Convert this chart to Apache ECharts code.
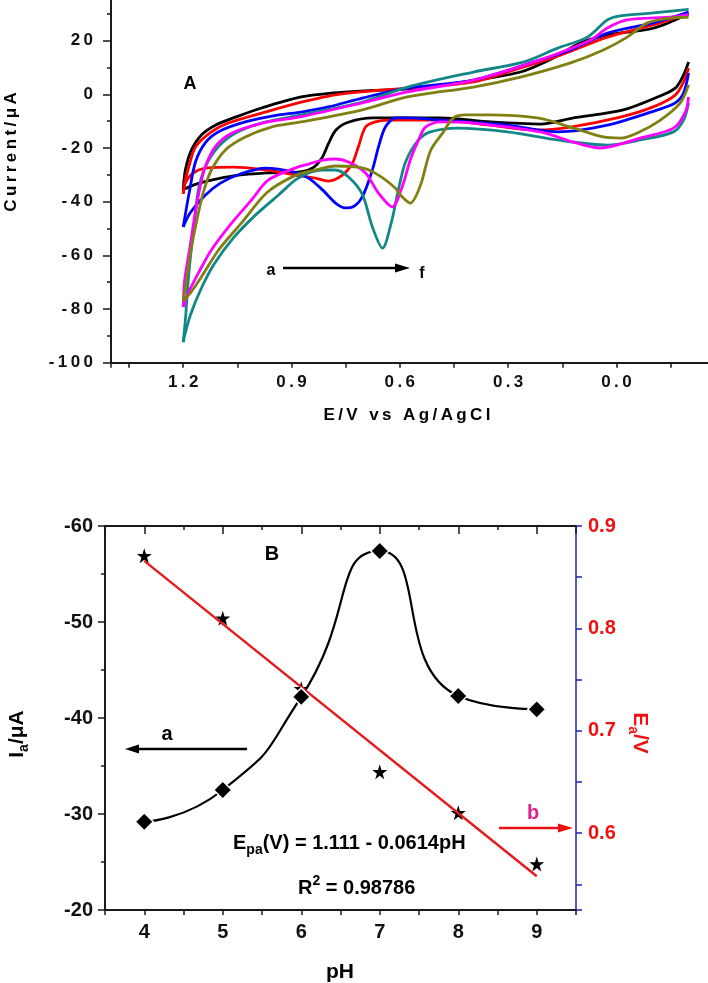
<!DOCTYPE html>
<html>
<head>
<meta charset="utf-8">
<title>CV curves and pH dependence</title>
<script src="https://cdn.jsdelivr.net/npm/echarts@6.0.0/dist/echarts.min.js"></script>
<style>
  html, body { margin: 0; padding: 0; background: #fff; }
  #chart { width: 708px; height: 983px; }
</style>
</head>
<body>
<div id="chart"></div>
<script>
// ---- panel A : cyclic voltammograms, [E (V), I (uA)] ----
// each curve split in the branch going 1.2 -> -0.2 (upper) and back (lower)
const aUpper = [[1.2,-35.5],[1.194,-28.2],[1.177,-20.7],[1.150,-15.2],[1.111,-11.5],[1.055,-8.5],[0.983,-5.1],[0.873,-1.0],[0.784,0.5],[0.709,1.2],[0.543,2.3],[0.404,5.0],[0.266,8.3],[0.175,13.5],[0.100,19.1],[0.025,22.1],[-0.102,24.6],[-0.2,30.0]]
const aLower = [[-0.2,12.0],[-0.186,7.2],[-0.163,2.3],[-0.114,-1.0],[-0.019,-5.8],[0.119,-8.8],[0.211,-11.1],[0.349,-10.3],[0.488,-8.8],[0.673,-8.8],[0.745,-10.5],[0.778,-13.5],[0.798,-18.5],[0.815,-23.5],[0.840,-27.3],[0.875,-28.9],[0.967,-29.3],[1.061,-30.4],[1.122,-32.0],[1.172,-33.8],[1.2,-35.5]]

const bUpper = [[1.2,-37.1],[1.194,-31.9],[1.183,-26.3],[1.166,-19.6],[1.122,-14.0],[1.075,-10.7],[0.983,-7.0],[0.873,-2.9],[0.765,0.1],[0.579,2.3],[0.396,4.6],[0.266,9.8],[0.155,14.6],[0.025,21.3],[-0.102,25.8],[-0.2,30.3]]
const bLower = [[-0.2,9.8],[-0.186,4.6],[-0.163,-0.3],[-0.102,-4.7],[-0.011,-8.5],[0.127,-12.2],[0.219,-13.3],[0.357,-11.4],[0.488,-9.6],[0.632,-9.6],[0.668,-10.3],[0.695,-12.2],[0.715,-19.6],[0.731,-25.6],[0.759,-30.1],[0.798,-32.3],[0.834,-31.2],[0.875,-30.4],[0.967,-28.2],[1.061,-27.1],[1.133,-27.4],[1.172,-29.3],[1.194,-33.0],[1.2,-37.1]]

const cUpper = [[1.2,-49.4],[1.191,-42.3],[1.183,-36.4],[1.166,-25.2],[1.139,-18.1],[1.103,-14.0],[1.028,-10.3],[0.936,-7.7],[0.873,-6.6],[0.798,-4.7],[0.704,-1.4],[0.579,2.3],[0.396,5.3],[0.211,12.8],[0.127,16.5],[0.025,22.8],[-0.102,26.6],[-0.2,30.6]]
const cLower = [[-0.2,7.9],[-0.186,0.5],[-0.163,-3.2],[-0.114,-5.8],[0.025,-11.5],[0.163,-14.0],[0.302,-11.5],[0.488,-9.6],[0.579,-8.8],[0.612,-8.8],[0.640,-12.2],[0.659,-19.6],[0.676,-28.2],[0.704,-38.2],[0.731,-42.0],[0.751,-42.3],[0.778,-40.5],[0.814,-35.6],[0.853,-31.2],[0.895,-28.9],[0.972,-27.5],[1.042,-29.7],[1.097,-33.1],[1.139,-37.6],[1.180,-44.0],[1.2,-49.4]]

const dUpper = [[1.2,-92.3],[1.194,-84.1],[1.186,-69.2],[1.177,-56.9],[1.166,-44.2],[1.158,-35.6],[1.139,-27.1],[1.103,-19.6],[1.055,-14.4],[0.983,-10.7],[0.873,-7.7],[0.704,-2.9],[0.579,2.7],[0.396,8.3],[0.258,12.0],[0.163,17.2],[0.080,21.3],[0.025,27.7],[-0.011,29.2],[-0.102,30.3],[-0.2,31.6]]
const dLower = [[-0.2,-3.2],[-0.186,-9.6],[-0.158,-14.0],[-0.066,-17.0],[0.025,-18.9],[0.163,-17.0],[0.302,-14.0],[0.440,-12.6],[0.515,-14.0],[0.548,-17.0],[0.584,-25.2],[0.604,-35.6],[0.623,-47.5],[0.648,-57.3],[0.676,-49.4],[0.704,-37.2],[0.742,-30.8],[0.778,-28.2],[0.814,-28.2],[0.853,-29.3],[0.889,-31.9],[0.936,-37.5],[1.0,-45.0],[1.061,-53.5],[1.116,-63.6],[1.152,-72.9],[1.180,-82.2],[1.194,-88.8],[1.2,-92.3]]

const eUpper = [[1.2,-79.2],[1.196,-69.2],[1.181,-56.8],[1.167,-44.3],[1.153,-34.4],[1.139,-27.0],[1.111,-19.5],[1.066,-14.5],[0.983,-10.8],[0.872,-8.3],[0.704,-3.2],[0.579,0.9],[0.396,5.3],[0.211,12.8],[0.072,20.2],[0.025,24.7],[-0.030,27.7],[-0.158,28.8],[-0.2,29.8]]
const eLower = [[-0.2,-1.0],[-0.191,-6.6],[-0.158,-12.6],[-0.066,-16.3],[0.044,-20.0],[0.119,-17.8],[0.211,-14.0],[0.396,-10.7],[0.488,-10.3],[0.529,-12.2],[0.548,-17.0],[0.571,-24.5],[0.593,-34.3],[0.621,-41.9],[0.659,-36.8],[0.695,-29.3],[0.742,-25.2],[0.778,-24.1],[0.814,-24.5],[0.861,-26.3],[0.889,-27.4],[0.964,-31.9],[1.011,-39.4],[1.066,-48.0],[1.122,-58.0],[1.158,-66.6],[1.186,-74.0],[1.2,-79.2]]

const fUpper = [[1.2,-77.0],[1.191,-69.2],[1.177,-56.9],[1.158,-44.2],[1.144,-36.4],[1.122,-28.2],[1.083,-20.7],[1.028,-15.9],[0.956,-12.2],[0.873,-10.3],[0.704,-5.8],[0.579,-1.0],[0.396,2.7],[0.266,6.4],[0.127,11.7],[0.036,16.5],[-0.030,21.3],[-0.086,26.6],[-0.150,28.4],[-0.2,28.7]]
const fLower = [[-0.2,3.5],[-0.177,-3.2],[-0.122,-9.6],[-0.058,-14.4],[-0.011,-16.3],[0.036,-15.9],[0.127,-12.2],[0.219,-8.8],[0.357,-7.7],[0.418,-7.7],[0.452,-8.8],[0.479,-14.0],[0.515,-21.0],[0.543,-34.0],[0.571,-40.5],[0.595,-38.0],[0.612,-35.0],[0.659,-30.1],[0.704,-27.4],[0.778,-26.7],[0.834,-28.2],[0.889,-30.2],[0.967,-36.5],[1.039,-48.0],[1.102,-58.0],[1.150,-68.1],[1.180,-74.0],[1.2,-77.0]]

const cvColors = ['#000000', '#ff0000', '#0000ff', '#138787', '#ff00ff', '#808012']
const cvBranches = [[aUpper, aLower], [bUpper, bLower], [cUpper, cLower], [dUpper, dLower], [eUpper, eLower], [fUpper, fLower]]

// ---- panel B : peak current and peak potential vs pH ----
const pH = [4, 5, 6, 7, 8, 9]
const peakCurrent = [-29.2, -32.5, -42.2, -57.4, -42.3, -40.9]
const peakPotential = [0.871, 0.810, 0.741, 0.660, 0.620, 0.570]
const fitPH = [4, 9]
const fitPotential = [0.866, 0.558]

const FONT = '"Liberation Sans", Arial, Helvetica, sans-serif'
const spaced = s => String(s).split('').join('\u2009')
const starPath = 'path://M50,0 L61,35 L98,35 L68,57 L79,91 L50,70 L21,91 L32,57 L2,35 L39,35 Z'

function cvSeries(data, color) {
    return {
        type: 'line', xAxisIndex: 0, yAxisIndex: 0,
        data: data, smooth: 0.3, symbol: 'none', silent: true,
        lineStyle: { color: color, width: 2.8 }
    }
}

let series = []
cvBranches.forEach((br, i) => {
    series.push(cvSeries(br[0], cvColors[i]))
    series.push(cvSeries(br[1], cvColors[i]))
})

series.push({
    type: 'line', xAxisIndex: 1, yAxisIndex: 1,
    data: pH.map((p, i) => [p, peakCurrent[i]]),
    smooth: 0.6, symbol: 'diamond', symbolSize: 18,
    itemStyle: { color: '#000', borderColor: '#fff', borderWidth: 1.5, opacity: 1 },
    lineStyle: { color: '#000', width: 2.2 }
})
series.push({
    type: 'line', xAxisIndex: 1, yAxisIndex: 2,
    data: fitPH.map((p, i) => [p, fitPotential[i]]),
    symbol: 'none', lineStyle: { color: '#e51a1a', width: 2.4 }
})
series.push({
    type: 'scatter', xAxisIndex: 1, yAxisIndex: 2,
    data: pH.map((p, i) => [p, peakPotential[i]]),
    symbol: starPath, symbolSize: 15,
    itemStyle: { color: '#000', opacity: 1 }
})

const axisLine = { show: true, onZero: false, lineStyle: { color: '#1a1a1a', width: 2 } }
const tickStyle = { color: '#1a1a1a', width: 1.5 }
const boldLabel = (size, extra) => Object.assign({ color: '#111', fontSize: size, fontWeight: 'bold', fontFamily: FONT }, extra)

function text(x, y, str, size, color, extra) {
    return Object.assign({
        type: 'text', x: x, y: y, silent: true,
        style: { text: str, fontSize: size, fontWeight: 'bold', fontFamily: FONT, fill: color || '#000', align: 'center', verticalAlign: 'middle' }
    }, extra || {})
}
function arrow(x1, x2, y, color, head) {
    const dir = x2 > x1 ? 1 : -1
    return [
        { type: 'line', silent: true, shape: { x1: x1, y1: y, x2: x2 - dir * head * 0.8, y2: y }, style: { stroke: color, lineWidth: 2.5 } },
        { type: 'polygon', silent: true, shape: { points: [[x2 - dir * head, y - 4.5], [x2, y], [x2 - dir * head, y + 4.5]] }, style: { fill: color } }
    ]
}

const richMain = { fontSize: 20, fontWeight: 'bold', fontFamily: FONT, lineHeight: 28 }
const richSub = { fontSize: 14, fontWeight: 'bold', fontFamily: FONT, lineHeight: 14, verticalAlign: 'bottom' }
const richSup = { fontSize: 14, fontWeight: 'bold', fontFamily: FONT, lineHeight: 14, verticalAlign: 'top' }

let graphics = [
    text(190, 84, 'A', 18),
    text(271, 271, 'a', 16),
    text(422, 274, 'f', 16),
    ...arrow(283, 410, 268, '#000', 15),
    text(11, 152, spaced('Current/\u03bcA'), 17, '#000', { rotation: Math.PI / 2 }),
    text(407, 415, spaced('E/V vs Ag/AgCl'), 17),
    text(272, 554, 'B', 20),
    text(167, 734, 'a', 20),
    ...arrow(247, 125, 749, '#000', 14),
    text(533, 813, 'b', 20, '#dd2288'),
    ...arrow(499, 573, 828, '#ee1111', 15),
    text(340, 972, 'pH', 21),
    {
        type: 'text', x: 233, y: 843, silent: true,
        style: { text: '{m|E}{s|pa}{m|(V) = 1.111 - 0.0614pH}', rich: { m: richMain, s: richSub }, fill: '#000', align: 'left', verticalAlign: 'middle' }
    },
    {
        type: 'text', x: 298, y: 888, silent: true,
        style: { text: '{m|R}{p|2}{m| = 0.98786}', rich: { m: richMain, p: richSup }, fill: '#000', align: 'left', verticalAlign: 'middle' }
    },
    {
        type: 'text', x: 17, y: 734, rotation: Math.PI / 2, silent: true,
        style: { text: '{m|I}{s|a}{m|/\u03bcA}', rich: { m: Object.assign({}, richMain, { fontSize: 21 }), s: richSub }, fill: '#000', align: 'center', verticalAlign: 'middle' }
    },
    {
        type: 'text', x: 640, y: 733, rotation: -Math.PI / 2, silent: true,
        style: { text: '{m|E}{s|a}{m|/V}', rich: { m: Object.assign({}, richMain, { fontSize: 21, color: '#ee1111' }), s: Object.assign({}, richSub, { color: '#ee1111' }) }, fill: '#ee1111', align: 'center', verticalAlign: 'middle' }
    }
]

let chart = echarts.init(document.getElementById('chart'), null, { renderer: 'canvas' })

option = {
    animation: false,
    backgroundColor: '#fff',
    grid: [
        { left: 111, top: -13.1, width: 613.7, height: 375.9, outerBoundsMode: 'none', containLabel: false },
        { left: 105, top: 526, width: 471, height: 384, outerBoundsMode: 'none', containLabel: false }
    ],
    xAxis: [
        {
            gridIndex: 0, type: 'value', inverse: true, min: -0.3, max: 1.4, interval: 0.15,
            axisLine: axisLine,
            axisTick: { show: true, length: 5, lineStyle: tickStyle },
            splitLine: { show: false },
            axisLabel: boldLabel(17, {
                margin: 11,
                formatter: v => {
                    const k = v / 0.3
                    if (Math.abs(k - Math.round(k)) > 1e-3 || v < -0.01 || v > 1.25) return ''
                    return spaced((Math.round(v * 10) / 10).toFixed(1))
                }
            })
        },
        {
            gridIndex: 1, type: 'value', position: 'bottom', min: 3.5, max: 9.5, interval: 0.5,
            axisLine: axisLine,
            axisTick: { show: true, length: 5, lineStyle: tickStyle },
            splitLine: { show: false },
            axisLabel: boldLabel(20, {
                margin: 12,
                formatter: v => (Math.abs(v - Math.round(v)) < 1e-6 && v > 3.9 && v < 9.1) ? String(Math.round(v)) : ''
            })
        },
        {
            gridIndex: 1, type: 'value', position: 'top', min: 3.5, max: 9.5, splitNumber: 6,
            axisLine: axisLine,
            axisTick: { show: true, inside: true, length: 8, lineStyle: tickStyle },
            minorTick: { show: true, splitNumber: 2, length: 4, lineStyle: tickStyle },
            splitLine: { show: false },
            axisLabel: { show: false }
        }
    ],
    yAxis: [
        {
            gridIndex: 0, type: 'value', min: -100, max: 40, interval: 20,
            axisLine: axisLine,
            axisTick: { show: true, length: 8, lineStyle: tickStyle },
            minorTick: { show: true, splitNumber: 2, length: 4, lineStyle: tickStyle },
            splitLine: { show: false }, minorSplitLine: { show: false },
            axisLabel: boldLabel(17, {
                margin: 18,
                formatter: v => v > 25 ? '' : spaced(Math.round(v))
            })
        },
        {
            gridIndex: 1, type: 'value', inverse: true, min: -60, max: -20, interval: 10, position: 'left',
            axisLine: axisLine,
            axisTick: { show: true, length: 7, lineStyle: tickStyle },
            minorTick: { show: true, splitNumber: 2, length: 4, lineStyle: tickStyle },
            splitLine: { show: false }, minorSplitLine: { show: false },
            axisLabel: boldLabel(20, { margin: 12, formatter: v => String(Math.round(v)) })
        },
        {
            gridIndex: 1, type: 'value', min: 0.525, max: 0.9, splitNumber: 8, position: 'right',
            axisLine: { show: true, onZero: false, lineStyle: { color: '#2222bb', width: 1.5 } },
            axisTick: { show: true, length: 6, lineStyle: { color: '#2222bb', width: 1.5 } },
            splitLine: { show: false },
            axisLabel: boldLabel(20, {
                color: '#ee1111', margin: 12,
                formatter: v => {
                    const r = Math.round(v * 10)
                    return (Math.abs(v * 10 - r) < 1e-6 && v > 0.58) ? (r / 10).toFixed(1) : ''
                }
            })
        }
    ],
    series: series,
    graphic: { elements: graphics }
}
chart.setOption(option)
</script>
</body>
</html>
